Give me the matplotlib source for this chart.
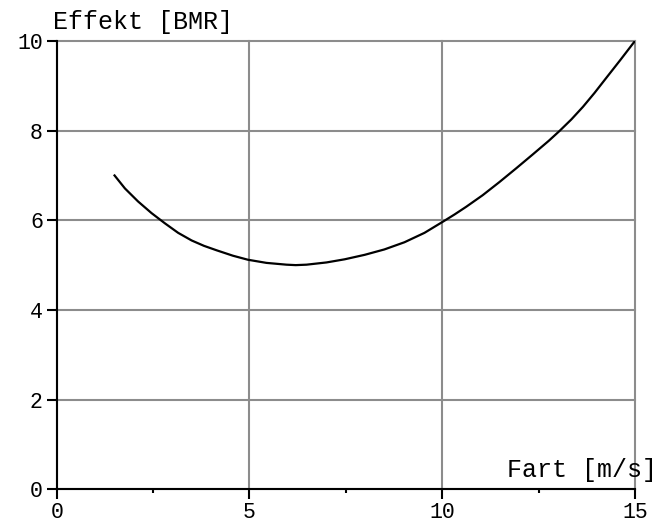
import matplotlib
matplotlib.use('Agg')
import matplotlib.pyplot as plt
from matplotlib.ticker import MultipleLocator

# kurve lest av bildet
fart = [1.5, 1.77, 2.11, 2.46, 2.81, 3.15, 3.5, 3.82, 4.15, 4.57, 4.96, 5.44, 5.96, 6.2,
        6.48, 7.0, 7.47, 7.99, 8.5, 9.02, 9.54, 10.02, 10.32, 10.62, 11.05, 11.48, 11.92,
        12.35, 12.76, 13.04, 13.35, 13.65, 13.95, 14.25, 14.62, 15.0]
effekt = [7.0, 6.71, 6.42, 6.16, 5.93, 5.72, 5.55, 5.43, 5.33, 5.21, 5.12, 5.05, 5.01, 5.0,
          5.01, 5.06, 5.13, 5.23, 5.35, 5.51, 5.72, 5.97, 6.13, 6.30, 6.56, 6.85, 7.16,
          7.47, 7.77, 7.99, 8.25, 8.53, 8.84, 9.17, 9.575, 10.0]
xticks = [0, 5, 10, 15]
yticks = [0, 2, 4, 6, 8, 10]

plt.rcParams['font.family'] = ['Liberation Mono', 'DejaVu Sans']
plt.rcParams['font.size'] = 18

fig = plt.figure(figsize=(6.58, 5.25), dpi=100)
ax = fig.add_axes([0.0862, 0.068, 0.965 - 0.0862, 0.922 - 0.068])

ax.plot(fart, effekt, color='black', lw=1.6, solid_joinstyle='round', zorder=3)

ax.set_xlim(0, 15)
ax.set_ylim(0, 10)
ax.set_xticks(xticks)
ax.set_yticks(yticks)
ax.xaxis.set_minor_locator(MultipleLocator(2.5))
ax.grid(True, which='major', color='#8c8c8c', lw=1.5)
for gl in ax.get_xgridlines() + ax.get_ygridlines():
    gl.set_clip_on(False)

for s in ['top', 'right']:
    ax.spines[s].set_visible(False)
for s in ['left', 'bottom']:
    ax.spines[s].set_linewidth(1.5)
    ax.spines[s].set_zorder(4)

ax.tick_params(axis='x', which='major', direction='out', length=7, width=1.5, pad=2,
               labelsize=15.5)
ax.tick_params(axis='x', which='minor', direction='out', length=3, width=1.5)
ax.tick_params(axis='y', which='major', direction='out', length=7, width=1.5, pad=3,
               labelsize=15.5)

fig.text(53 / 658, 1 - 29 / 525, 'Effekt [BMR]', ha='left', va='baseline')
fig.text(657 / 658, 1 - 477 / 525, 'Fart [m/s]', ha='right', va='baseline')

fig.savefig('out.png', dpi=100)
